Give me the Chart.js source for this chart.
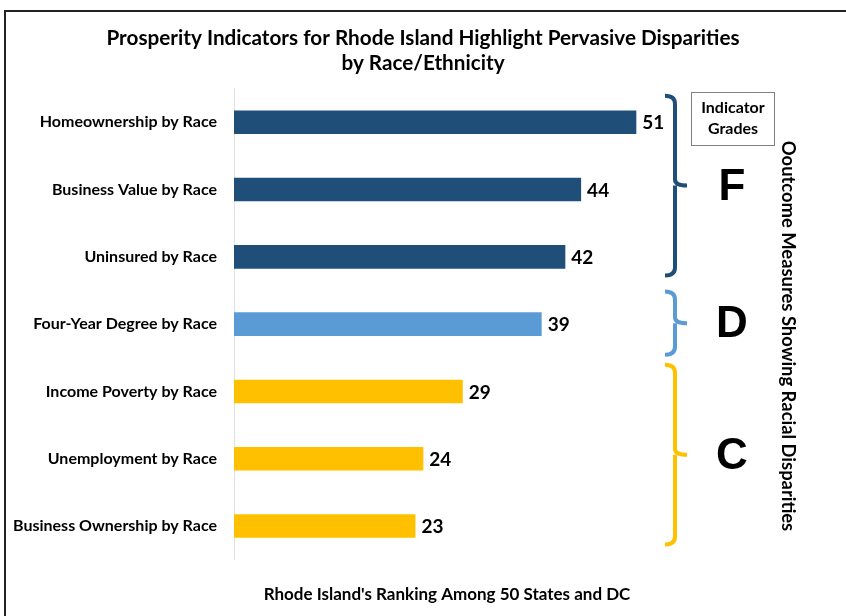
<!DOCTYPE html>
<html>
<head>
<meta charset="utf-8">
<script src="https://cdn.jsdelivr.net/npm/chart.js@4"></script>
<style>
  html, body { margin: 0; padding: 0; background: #fff; }
  #wrap { width: 846px; height: 616px; }
</style>
</head>
<body>
<div id="wrap"><canvas id="myChart" width="846" height="616"></canvas></div>
<script>
// Indicators and Rhode Island's rank for each
var indicators = ['Homeownership by Race', 'Business Value by Race', 'Uninsured by Race',
  'Four-Year Degree by Race', 'Income Poverty by Race', 'Unemployment by Race', 'Business Ownership by Race'];
var ranks = [51, 44, 42, 39, 29, 24, 23];
// Grade of each indicator
var grades = ['F', 'F', 'F', 'D', 'C', 'C', 'C'];
var gradeColors = { F: '#1F4E79', D: '#5B9BD5', C: '#FFC000' };

var font = 'Lato, "Open Sans", sans-serif';

// frame, braces, grade letters, box and the side text
var extras = {
  id: 'extras',
  beforeDraw: function (chart) {
    var c = chart.ctx;
    c.save();
    c.strokeStyle = '#222';
    c.lineWidth = 2;
    c.beginPath();
    c.moveTo(846, 11);
    c.lineTo(5, 11);
    c.lineTo(5, 616);
    c.stroke();
    c.restore();
  },
  afterDatasetsDraw: function (chart) {
    var c = chart.ctx;
    var y = chart.scales.y;
    var meta = chart.getDatasetMeta(0);
    c.save();

    // value labels
    c.fillStyle = '#000';
    c.font = 'bold 19px ' + font;
    c.textAlign = 'left';
    c.textBaseline = 'middle';
    meta.data.forEach(function (bar, i) {
      c.fillText(ranks[i], bar.x + 6, bar.y + 1);
    });

    // group the categories by grade
    var groups = [];
    grades.forEach(function (g, i) {
      var last = groups[groups.length - 1];
      if (last && last.g === g) last.end = i;
      else groups.push({ g: g, start: i, end: i });
    });
    var half = (y.getPixelForValue(1) - y.getPixelForValue(0)) / 2;
    var bx = chart.chartArea.right + 15;
    groups.forEach(function (gr) {
      var n = gr.end - gr.start;
      var top = y.getPixelForValue(gr.start) - half + 1 + 3 * n;
      var bot = y.getPixelForValue(gr.end) + half - 3 - 6 * n;
      var mid = (top + bot) / 2;
      c.strokeStyle = gradeColors[gr.g];
      c.lineWidth = 4;
      c.beginPath();
      c.moveTo(bx - 10, top);
      c.quadraticCurveTo(bx, top, bx, top + 8);
      c.lineTo(bx, mid - 6);
      c.quadraticCurveTo(bx, mid, bx + 12, mid);
      c.moveTo(bx, mid);
      c.quadraticCurveTo(bx, mid, bx, mid + 6);
      c.lineTo(bx, bot - 8);
      c.quadraticCurveTo(bx, bot, bx - 10, bot);
      c.stroke();

      c.fillStyle = '#000';
      c.font = 'bold 44px "Liberation Sans", Arial, sans-serif';
      c.textAlign = 'center';
      c.textBaseline = 'middle';
      c.fillText(gr.g, 732, mid + 2);
    });

    // Indicator Grades box
    c.strokeStyle = '#7f7f7f';
    c.lineWidth = 1;
    c.strokeRect(691.5, 92.5, 83, 53);
    c.fillStyle = '#000';
    c.font = 'bold 16px ' + font;
    c.textAlign = 'center';
    c.fillText('Indicator', 733, 108);
    c.fillText('Grades', 733, 129);

    // side text
    c.translate(788, 336);
    c.rotate(Math.PI / 2);
    c.font = 'bold 18.4px ' + font;
    c.fillText('Ooutcome Measures Showing Racial Disparities', 0, 0);
    c.restore();
  }
};

var ctx = document.getElementById('myChart');
var myChart = new Chart(ctx, {
  type: 'bar',
  data: {
    labels: indicators,
    datasets: [{
      data: ranks,
      backgroundColor: grades.map(function (g) { return gradeColors[g]; }),
      categoryPercentage: 1,
      barPercentage: 0.35
    }]
  },
  options: {
    indexAxis: 'y',
    responsive: false,
    animation: false,
    layout: { padding: { top: 10, right: 0, bottom: 8, left: 0 } },
    plugins: {
      legend: { display: false },
      tooltip: { enabled: false },
      title: {
        display: true,
        text: ['Prosperity Indicators for Rhode Island Highlight Pervasive Disparities', 'by Race/Ethnicity'],
        color: '#000',
        font: { family: font, size: 20.7, weight: 'bold', lineHeight: 1.2 },
        padding: { top: 16, bottom: 13 }
      }
    },
    scales: {
      x: {
        min: 0,
        max: 54,
        ticks: { display: false },
        grid: { display: false },
        border: { display: false },
        title: {
          display: true,
          text: "Rhode Island's Ranking Among 50 States and DC",
          color: '#000',
          font: { family: font, size: 17, weight: 'bold' },
          padding: { top: 17, bottom: 3 }
        }
      },
      y: {
        grid: { display: false },
        border: { display: true, color: '#e0e0e0', width: 1 },
        ticks: {
          color: '#000',
          padding: 9,
          font: { family: font, size: 16, weight: 'bold' }
        },
        afterFit: function (scale) { scale.width = 234; }
      },
      // empty space on the right for the grade braces
      side: {
        type: 'category',
        axis: 'y',
        position: 'right',
        ticks: { display: false },
        grid: { display: false },
        border: { display: false },
        afterFit: function (scale) { scale.width = 186; }
      }
    }
  },
  plugins: [extras]
});
</script>
</body>
</html>
